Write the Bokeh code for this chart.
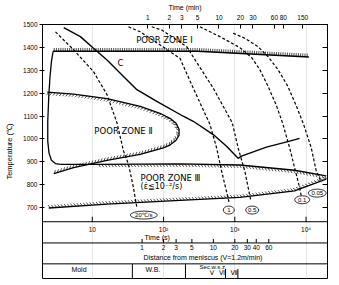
import numpy as np
from bokeh.plotting import figure
from bokeh.models import (Range1d, LinearAxis, FixedTicker, LogScale, Label,
                          CustomJSTickFormatter, ColumnDataSource)
from bokeh.core.properties import value
from bokeh.embed import file_html
from bokeh.resources import INLINE

# ---------------- data (time in s, temperature in deg C) ----------------
curve_c_time = [3.97, 6.8, 10.4, 16.1, 27.4, 42.2, 80.4, 189, 261, 498, 766, 1112, 1241, 2778, 5886, 8112]
curve_c_temp = [1486, 1447, 1396, 1345, 1273, 1215, 1164, 1099, 1077, 1019, 968, 915, 925, 964, 990, 1002]

shell_time = [2.82, 2.67, 2.55, 2.45, 2.37, 2.37, 2.47, 2.67, 3.04, 3.57]
shell_temp = [1383, 1338, 1273, 1186, 1077, 990, 938, 907, 892, 889]

zone1_time = [2.82, 300, 10950]
zone1_temp = [1383, 1383, 1358]

zone2_time = [2.33, 5.48, 16.1, 47.0, 89, 123, 150, 165, 165, 150, 123, 99.5, 47.0, 16.1, 5.48, 2.88]
zone2_temp = [1204, 1196, 1176, 1142, 1112, 1090, 1068, 1042, 1016, 994, 973, 961, 932, 906, 874, 848]

zone3_top_time = [3.57, 11.6, 170, 1175, 6909, 19180]
zone3_top_temp = [889, 889, 891, 886, 863, 838]
zone3_bot_time = [2.45, 16.1, 200, 1175, 6909, 19180]
zone3_bot_temp = [698, 715, 732, 744, 773, 824]

rate_20_time = [3.04, 5.48, 10.4, 16.1, 22.2, 27.4, 32.2, 37.8, 42.2]
rate_20_temp = [1468, 1389, 1294, 1193, 1070, 947, 889, 787, 700]
rate_1_time = [32.2, 47.0, 105, 170, 261, 448, 555, 652, 828]
rate_1_temp = [1490, 1468, 1396, 1352, 1222, 1063, 961, 860, 725]
rate_05_time = [68.4, 94.4, 211, 498, 923, 1112, 1380, 1680]
rate_05_temp = [1490, 1476, 1403, 1222, 1070, 961, 860, 730]
rate_01_time = [324, 618, 1175, 1730, 2239, 2897, 3836, 4697, 5886, 6909, 8112, 8570]
rate_01_temp = [1490, 1447, 1399, 1355, 1303, 1233, 1146, 1068, 961, 874, 787, 751]
rate_005_time = [948, 1380, 2118, 2924, 4036, 5570, 7300, 9230, 11830, 13900, 16330]
rate_005_temp = [1462, 1440, 1403, 1360, 1303, 1229, 1144, 1064, 961, 860, 810]

rate_labels = ["20\u2103/s", "1", "0.5", "0.1", "0.05"]
rate_label_time = [52.8, 824, 1754, 8830, 14350]
rate_label_temp = [667, 689, 689, 734, 763]

temp_ticks = [700, 800, 900, 1000, 1100, 1200, 1300, 1400, 1500]
time_ticks = [10, 100, 1000, 10000]
time_tick_labels = ["10", "10\u00b2", "10\u00b3", "10\u2074"]
minute_ticks = [1, 2, 3, 5, 10, 20, 30, 60, 80, 150]
casting_speed = 1.2  # m/min
dist_ticks = [1, 2, 3, 5, 10, 20, 30, 40, 60]
dist_tick_labels = [str(d) for d in dist_ticks]
zone_names = ["Mold", "W.B."]
zone_label_pos = [0.13, 1.42]
zone_bounds = [0.73, 4.06]
sec_title = ["Sec.w.s.z."]
sec_title_pos = [9.9]
sec_names = ["V", "\u2165", "\u2166"]
sec_label_pos = [9.6, 13.2, 19.5]
sec_bounds = [14.8, 22.1]

# ---------------- geometry (pixels) ----------------
W, H = 339, 285
FRAME_L, FRAME_T, FRAME_W, FRAME_H = 42, 23, 285, 198   # temperature/time chart
TABLE_DEPTH = 57                                        # table below the chart
T_RANGE = (2.0, 20000.0)
Y_RANGE = (638.0, 1500.0)
LX0, LX1 = np.log10(T_RANGE[0]), np.log10(T_RANGE[1])
PX_PER_DEG = FRAME_H / (Y_RANGE[1] - Y_RANGE[0])


def to_px(t, T):
    t = np.asarray(t, float); T = np.asarray(T, float)
    sx = FRAME_L + (np.log10(t) - LX0) / (LX1 - LX0) * FRAME_W
    sy = FRAME_T + (Y_RANGE[1] - T) * PX_PER_DEG
    return sx, sy


def to_data(sx, sy):
    sx = np.asarray(sx, float); sy = np.asarray(sy, float)
    t = 10 ** (LX0 + (sx - FRAME_L) / FRAME_W * (LX1 - LX0))
    T = Y_RANGE[1] - (sy - FRAME_T) / PX_PER_DEG
    return t, T


def hatch(ts, Ts, spacing, length, side, angle):
    sx, sy = to_px(ts, Ts)
    dxs, dys = np.diff(sx), np.diff(sy)
    seg = np.hypot(dxs, dys)
    cum = np.concatenate([[0.0], np.cumsum(seg)])
    s = np.arange(spacing * 0.5, cum[-1], spacing)
    i = np.clip(np.searchsorted(cum, s, side="right") - 1, 0, len(seg) - 1)
    px = np.interp(s, cum, sx); py = np.interp(s, cum, sy)
    ux, uy = dxs[i] / seg[i], dys[i] / seg[i]
    nx, ny = -uy, ux
    a = np.radians(angle)
    vx = side * (np.cos(a) * nx + np.sin(a) * ux)
    vy = side * (np.cos(a) * ny + np.sin(a) * uy)
    x0, y0 = to_data(px, py)
    x1, y1 = to_data(px + length * vx, py + length * vy)
    return dict(x0=x0, y0=y0, x1=x1, y1=y1)


FONT = "Liberation Sans"
y_start = Y_RANGE[0] - TABLE_DEPTH / PX_PER_DEG
p = figure(width=W, height=H, x_axis_type="log", x_axis_location=None,
           x_range=Range1d(*T_RANGE), y_range=Range1d(y_start, Y_RANGE[1]),
           output_backend="svg", toolbar_location=None,
           min_border_left=FRAME_L, min_border_right=W - FRAME_L - FRAME_W,
           min_border_top=FRAME_T, min_border_bottom=H - FRAME_T - FRAME_H - TABLE_DEPTH)
p.background_fill_color = "white"
p.border_fill_color = "white"
p.outline_line_color = "black"
p.outline_line_width = 1
p.ygrid.grid_line_color = None

k = casting_speed / 60.0
p.extra_x_ranges = {"min": Range1d(T_RANGE[0] / 60, T_RANGE[1] / 60),
                    "dist": Range1d(T_RANGE[0] * k, T_RANGE[1] * k)}
p.extra_x_scales = {"min": LogScale(), "dist": LogScale()}
# table rows measured in pixels below the chart's bottom edge
p.extra_y_ranges = {"tab": Range1d(start=TABLE_DEPTH, end=-FRAME_H)}


def style(ax, fs="6.5px"):
    ax.major_label_text_font = FONT
    ax.major_label_text_font_size = fs
    ax.major_label_text_color = "black"
    ax.axis_label_text_font = FONT
    ax.axis_label_text_font_style = "normal"
    ax.axis_label_text_color = "black"
    ax.axis_line_color = "black"
    ax.major_tick_line_color = "black"
    ax.axis_line_width = 1
    ax.major_tick_out = 0
    ax.minor_tick_out = 0
    ax.minor_tick_in = 0


# left axis
ya = p.yaxis[0]
style(ya)
ya.ticker = FixedTicker(ticks=temp_ticks)
ya.bounds = Y_RANGE
ya.major_tick_in = 2
ya.major_tick_out = 3
ya.major_label_standoff = 2
ya.axis_label = "Temperature (\u2103)"
ya.axis_label_text_font_size = "7.5px"
ya.axis_label_standoff = 6

# right axis
ra = LinearAxis(ticker=FixedTicker(ticks=temp_ticks), bounds=Y_RANGE,
                formatter=CustomJSTickFormatter(code="return ''"))
style(ra)
ra.major_tick_in = 5
ra.major_label_standoff = 0
p.add_layout(ra, "right")

# top axis (minutes)
ta = LinearAxis(x_range_name="min", ticker=FixedTicker(ticks=minute_ticks))
style(ta, "6.5px")
ta.major_tick_in = 4
ta.major_label_standoff = 5
ta.axis_label = "Time (min)"
ta.axis_label_text_font_size = "7px"
ta.axis_label_standoff = 1
p.add_layout(ta, "above")

LC = "black"

# ---------------- table under the chart (time and distance scales) ----------------
ROW_TIME_LBL, ROW_TIME_TITLE = 8, 15.5
ROW_DIST, ROW_DIST_LBL, ROW_DIST_TITLE = 21.3, 25.7, 35.7
ROW_ZONE, ROW_ZONE_LBL, ROW_SEC_T, ROW_SEC = 42.3, 47.6, 45.9, 51.0
x0r, x1r = T_RANGE
p.segment(x0=[x0r, x0r, x0r], x1=[x1r, x1r, x1r], y0=[0, ROW_DIST, ROW_ZONE],
          y1=[0, ROW_DIST, ROW_ZONE], y_range_name="tab", line_color=LC, line_width=1)
# time (s) ticks and labels
p.segment(x0=time_ticks, x1=time_ticks, y0=[0] * 4, y1=[-5] * 4,
          y_range_name="tab", line_color=LC, line_width=1)
p.text(x=time_ticks, y=[ROW_TIME_LBL] * len(time_ticks), text=time_tick_labels,
       y_range_name="tab", text_font=value(FONT), text_font_size="6.5px",
       text_align="center", text_baseline="middle", text_color=LC)
tx, _ = to_data(156.7, 0)
p.text(x=[float(tx)], y=[ROW_TIME_TITLE], text=["Time (s)"], y_range_name="tab",
       text_font=value(FONT), text_font_size="7px", text_align="center",
       text_baseline="middle", text_color=LC)
# distance ticks and labels
p.segment(x0=dist_ticks, x1=dist_ticks, y0=[ROW_DIST] * len(dist_ticks),
          y1=[ROW_DIST - 4] * len(dist_ticks), x_range_name="dist", y_range_name="tab",
          line_color=LC, line_width=1)
p.text(x=dist_ticks, y=[ROW_DIST_LBL] * len(dist_ticks), text=dist_tick_labels,
       x_range_name="dist", y_range_name="tab", text_font=value(FONT),
       text_font_size="6.5px", text_align="center", text_baseline="middle", text_color=LC)
dx, _ = to_data(202.5, 0)
p.text(x=[float(dx)], y=[ROW_DIST_TITLE], text=["Distance from meniscus (V=1.2m/min)"],
       y_range_name="tab", text_font=value(FONT), text_font_size="7px",
       text_align="center", text_baseline="middle", text_color=LC)
# zones
p.segment(x0=zone_bounds, x1=zone_bounds, y0=[ROW_ZONE] * 2, y1=[TABLE_DEPTH] * 2,
          x_range_name="dist", y_range_name="tab", line_color=LC, line_width=1)
p.segment(x0=sec_bounds, x1=sec_bounds, y0=[ROW_SEC - 3.5] * 2, y1=[TABLE_DEPTH] * 2,
          x_range_name="dist", y_range_name="tab", line_color=LC, line_width=1)
p.text(x=zone_label_pos, y=[ROW_ZONE_LBL] * 2, text=zone_names, x_range_name="dist",
       y_range_name="tab", text_font=value(FONT), text_font_size="7px",
       text_align="center", text_baseline="middle", text_color=LC)
p.text(x=sec_title_pos, y=[ROW_SEC_T], text=sec_title, x_range_name="dist",
       y_range_name="tab", text_font=value(FONT), text_font_size="6px",
       text_align="center", text_baseline="middle", text_color=LC)
p.text(x=sec_label_pos, y=[ROW_SEC] * 3, text=sec_names, x_range_name="dist",
       y_range_name="tab", text_font=value("DejaVu Sans"), text_font_size="6.5px",
       text_align="center", text_baseline="middle", text_color=LC)

# ---------------- curves ----------------
p.line(shell_time, shell_temp, line_color=LC, line_width=1.3)
p.line(zone1_time, zone1_temp, line_color=LC, line_width=1.3)
p.line(zone2_time, zone2_temp, line_color=LC, line_width=1.3)
p.line(zone3_top_time, zone3_top_temp, line_color=LC, line_width=1.3)
p.line(zone3_bot_time, zone3_bot_temp, line_color=LC, line_width=1.3)
p.line(curve_c_time, curve_c_temp, line_color=LC, line_width=1.4)

hatches = [
    hatch(zone1_time, zone1_temp, 2.2, 3.3, -1, 0),
    hatch(zone2_time, zone2_temp, 3.2, 3.6, 1, -35),
    hatch(zone3_top_time[1:], zone3_top_temp[1:], 3.2, 3.6, 1, 35),
    hatch(zone3_bot_time, zone3_bot_temp, 3.2, 3.6, -1, 35),
]
for h in hatches:
    p.segment(x0="x0", y0="y0", x1="x1", y1="y1", source=ColumnDataSource(h),
              line_color=LC, line_width=0.7)

for tt, TT in [(rate_20_time, rate_20_temp), (rate_1_time, rate_1_temp),
               (rate_05_time, rate_05_temp), (rate_01_time, rate_01_temp),
               (rate_005_time, rate_005_temp)]:
    p.line(tt, TT, line_color=LC, line_width=1.2, line_dash="3 2")

oval_w = [27, 11, 13, 15, 18]
rs = ColumnDataSource(dict(x=rate_label_time, y=rate_label_temp, text=rate_labels, w=oval_w))
p.ellipse(x="x", y="y", width="w", height=8, width_units="screen", height_units="screen",
          source=rs, fill_color="white", line_color=LC, line_width=0.8)
p.text(x="x", y="y", text="text", source=rs, text_font=value(FONT), text_font_size="6px",
       text_align="center", text_baseline="middle", text_color=LC)

# ---------------- labels ----------------
ZF = "DejaVu Sans"
for txt, x, y, al, fs in [
    ("POOR ZONE \u2160", 103, 1433, "center", "8.5px"),
    ("C", 24.9, 1330, "center", "8.5px"),
    ("POOR ZONE \u2161", 27.4, 1034, "center", "8.5px"),
    ("POOR ZONE \u2162", 47.5, 830, "left", "8.5px"),
    ("(\u03b5\u0307\u226610\u207b\u00b2/s)", 47.5, 791, "left", "8px"),
]:
    p.add_layout(Label(x=x, y=y, text=txt, text_font=ZF, text_font_size=fs,
                       text_align=al, text_baseline="middle", text_color=LC))

open("out.html", "w").write(file_html(p, INLINE))
